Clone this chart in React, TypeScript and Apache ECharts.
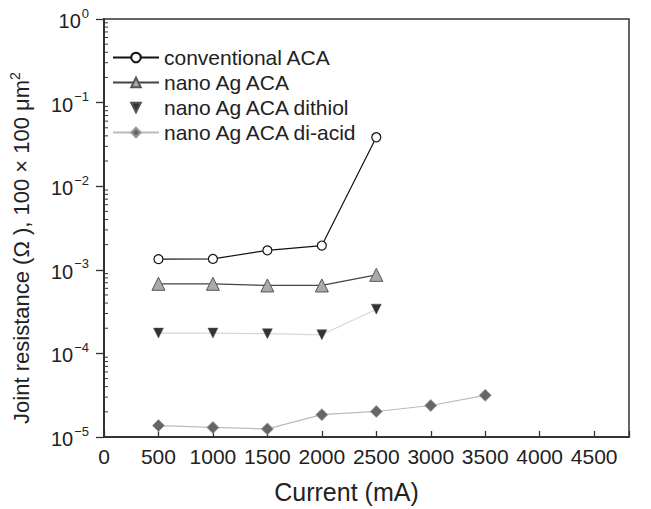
import React, { useEffect, useRef } from "react";
import * as echarts from "echarts";

const currents = [500, 1000, 1500, 2000, 2500, 3000, 3500];
const conventionalACA = [1.34e-3, 1.35e-3, 1.71e-3, 1.95e-3, 3.85e-2];
const nanoAgACA = [6.8e-4, 6.8e-4, 6.5e-4, 6.5e-4, 8.7e-4];
const nanoAgDithiol = [1.75e-4, 1.75e-4, 1.72e-4, 1.67e-4, 3.38e-4];
const nanoAgDiacid = [1.37e-5, 1.3e-5, 1.25e-5, 1.85e-5, 2.02e-5, 2.38e-5, 3.15e-5];
const seriesNames = ["conventional ACA", "nano Ag ACA", "nano Ag ACA dithiol", "nano Ag ACA di-acid"];
const decadeExponents = [-5, -4, -3, -2, -1];
const minorMultipliers = [2, 3, 4, 5, 6, 7, 8, 9];

const FONT = "Liberation Sans, Arial, Helvetica, sans-serif";
const TEXT = "#222";
const AXIS = "#333";

function pairs(vals: number[]) {
  return vals.map((v, i) => [currents[i], v]);
}

export default function App() {
  const ref = useRef<HTMLDivElement>(null);
  useEffect(() => {
    document.body.style.margin = "0";
    const chart = echarts.init(ref.current!, null, { renderer: "svg" });
    const minorTicks: number[][] = [];
    decadeExponents.forEach((e) =>
      minorMultipliers.forEach((m) => minorTicks.push([0, m * Math.pow(10, e)]))
    );
    chart.setOption({
      animation: false,
      textStyle: { fontFamily: FONT },
      grid: {
        left: 104,
        right: 22,
        top: 19,
        bottom: 65,
        containLabel: false,
        show: true,
        borderColor: AXIS,
        borderWidth: 1.5,
        backgroundColor: "transparent",
      },
      legend: {
        orient: "vertical",
        left: 107,
        top: 42,
        itemWidth: 46,
        itemHeight: 12,
        itemGap: 4,
        textStyle: { fontSize: 21, color: TEXT, fontFamily: FONT },
        data: [
          { name: seriesNames[0] },
          { name: seriesNames[1] },
          { name: seriesNames[2], lineStyle: { opacity: 0 } },
          { name: seriesNames[3] },
        ],
      },
      xAxis: {
        type: "value",
        min: 0,
        max: 4820,
        interval: 500,
        name: "Current (mA)",
        nameLocation: "middle",
        nameGap: 42,
        nameTextStyle: { fontSize: 25, color: TEXT, fontFamily: FONT, padding: [0, 40, 0, 0] },
        axisLine: { show: true, lineStyle: { color: AXIS, width: 2 } },
        axisTick: { show: true, inside: true, length: 6, lineStyle: { color: AXIS, width: 1.3 } },
        axisLabel: {
          fontSize: 21,
          color: TEXT,
          margin: 9,
          formatter: (v: number) => (v % 500 === 0 ? String(v) : ""),
        },
        splitLine: { show: false },
      },
      yAxis: {
        type: "log",
        logBase: 10,
        min: 1e-5,
        max: 1,
        name: "Joint resistance (Ω ), 100 × 100 μm{sup|2}",
        nameLocation: "middle",
        nameGap: 70,
        nameTextStyle: {
          fontSize: 22,
          color: TEXT,
          fontFamily: FONT,
          padding: [0, 40, 0, 0],
          rich: {
            sup: { fontSize: 14, color: TEXT, fontFamily: FONT, verticalAlign: "top", padding: [0, 0, 12, 0] },
          },
        },
        axisLine: { show: true, lineStyle: { color: AXIS, width: 2 } },
        axisTick: { show: true, inside: false, length: 8, lineStyle: { color: AXIS, width: 1.3 } },
        axisLabel: {
          margin: 15,
          color: TEXT,
          formatter: (v: number) => {
            const e = Math.round(Math.log10(v));
            return "{base|10}{sup|" + (e === 0 ? "0" : "\u2212" + -e) + "}";
          },
          rich: {
            base: { fontSize: 20, color: TEXT, fontFamily: FONT, padding: [4, 0, 0, 0] },
            sup: { fontSize: 13, color: TEXT, fontFamily: FONT, padding: [0, 0, 12, 1] },
          },
        },
        splitLine: { show: false },
        minorTick: { show: false },
      },
      series: [
        {
          name: seriesNames[0],
          type: "line",
          data: pairs(conventionalACA),
          symbol: "circle",
          symbolSize: 9,
          itemStyle: { color: "#fff", borderColor: "#111", borderWidth: 1.2 },
          lineStyle: { color: "#111", width: 1.2 },
          z: 4,
        },
        {
          name: seriesNames[1],
          type: "line",
          data: pairs(nanoAgACA),
          symbol: "triangle",
          symbolSize: 13,
          itemStyle: { color: "#aaa", borderColor: "#555", borderWidth: 1 },
          lineStyle: { color: "#444", width: 1.2 },
          z: 3,
        },
        {
          name: seriesNames[2],
          type: "line",
          data: pairs(nanoAgDithiol),
          symbol: "triangle",
          symbolRotate: 180,
          symbolSize: 10,
          itemStyle: { color: "#333", borderColor: "#555", borderWidth: 0.5 },
          lineStyle: { color: "#d6d6d6", width: 1.2 },
          z: 3,
        },
        {
          name: seriesNames[3],
          type: "line",
          data: pairs(nanoAgDiacid),
          symbol: "diamond",
          symbolSize: 12,
          itemStyle: { color: "#666", borderColor: "#999", borderWidth: 0.8 },
          lineStyle: { color: "#bbb", width: 1.2 },
          z: 3,
        },
        {
          name: "minorTicks",
          type: "custom",
          silent: true,
          clip: false,
          data: minorTicks,
          encode: { x: 0, y: 1 },
          renderItem: (params: any, api: any) => {
            const p = api.coord([0, api.value(1)]);
            return {
              type: "line",
              shape: { x1: p[0], y1: p[1], x2: p[0] + 4, y2: p[1] },
              style: { stroke: AXIS, lineWidth: 1 },
            };
          },
          z: 5,
        },
      ],
    });
    return () => chart.dispose();
  }, []);
  return (
    <div
      ref={ref}
      style={{ position: "fixed", left: 0, top: 0, width: 651, height: 509, background: "#fff" }}
    />
  );
}
